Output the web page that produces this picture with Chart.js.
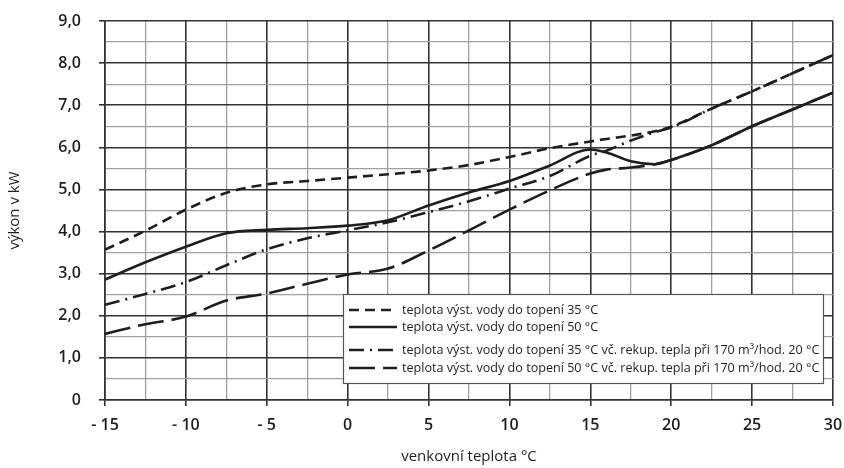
<!DOCTYPE html>
<html>
<head>
<meta charset="utf-8">
<script src="https://cdn.jsdelivr.net/npm/chart.js@4"></script>
<style>
  body { margin: 0; background: #fff; }
  #c { display: block; }
</style>
</head>
<body>
<canvas id="c" width="844" height="468"></canvas>
<script>
// outdoor temperature (°C)
const teploty = [-15, -12.5, -10, -7.5, -5, -2.5, 0, 2.5, 5, 7.5, 10, 12.5, 15, 16, 17.5, 19, 20, 22.5, 25, 27.5, 30];
// power output (kW)
const vykon35 = [3.57, 4.02, 4.52, 4.92, 5.12, 5.2, 5.28, 5.36, 5.45, 5.58, 5.77, 5.98, 6.14, 6.2, 6.28, 6.38, 6.49, 6.92, 7.33, 7.76, 8.19];
const vykon50 = [2.86, 3.27, 3.64, 3.96, 4.04, 4.08, 4.14, 4.27, 4.62, 4.93, 5.2, 5.57, 5.95, 5.88, 5.67, 5.6, 5.7, 6.05, 6.5, 6.9, 7.3];
const vykon35rek = [2.26, 2.52, 2.8, 3.2, 3.58, 3.84, 4.03, 4.22, 4.46, 4.72, 5.02, 5.32, 5.8, 5.92, 6.16, 6.36, 6.47, 6.92, 7.33, 7.76, 8.19];
const vykon50rek = [1.57, 1.8, 1.98, 2.36, 2.53, 2.76, 2.98, 3.12, 3.55, 4.03, 4.52, 4.98, 5.38, 5.47, 5.52, 5.6, 5.7, 6.05, 6.5, 6.9, 7.3];

const popisky = [
    "teplota výst. vody do topení 35 °C",
    "teplota výst. vody do topení 50 °C",
    "teplota výst. vody do topení 35 °C vč. rekup. tepla při 170 m³/hod. 20 °C",
    "teplota výst. vody do topení 50 °C vč. rekup. tepla při 170 m³/hod. 20 °C"
];

const INK = '#1e1e1e';
const tickFont = { family: '"Open Sans", sans-serif', size: 16, weight: '600' };
const titleFont = { family: '"Open Sans", sans-serif', size: 15, weight: '400' };

function serie(label, hodnoty, dash) {
    return {
        label: label,
        data: teploty.map((t, i) => ({ x: t, y: hodnoty[i] })),
        borderColor: INK,
        borderWidth: 2.6,
        borderDash: dash,
        pointRadius: 0,
        fill: false,
        cubicInterpolationMode: 'monotone'
    };
}

// legend drawn as a framed box inside the plot
const legendaBox = {
    id: 'legendaBox',
    afterDatasetsDraw(chart) {
        const ctx = chart.ctx;
        const x0 = 343, y0 = 294, w = 480, h = 89;
        const radky = [310, 327, 350, 368];
        ctx.save();
        ctx.fillStyle = '#fff';
        ctx.fillRect(x0, y0, w, h);
        ctx.strokeStyle = '#555';
        ctx.lineWidth = 1.2;
        ctx.strokeRect(x0 + 0.5, y0 + 0.5, w, h);
        ctx.font = '12.6px "Open Sans", sans-serif';
        ctx.textBaseline = 'middle';
        chart.data.datasets.forEach((ds, i) => {
            const y = radky[i];
            ctx.strokeStyle = INK;
            ctx.lineWidth = 2.6;
            ctx.setLineDash(ds.borderDash || []);
            ctx.beginPath();
            ctx.moveTo(349, y);
            ctx.lineTo(397, y);
            ctx.stroke();
            ctx.setLineDash([]);
            ctx.fillStyle = INK;
            ctx.fillText(popisky[i], 402, y);
        });
        ctx.restore();
    }
};

new Chart(document.getElementById('c'), {
    type: 'line',
    data: {
        datasets: [
            serie(popisky[0], vykon35, [10, 6]),
            serie(popisky[1], vykon50, []),
            serie(popisky[2], vykon35rek, [15, 6, 2, 6]),
            serie(popisky[3], vykon50rek, [26, 8])
        ]
    },
    options: {
        responsive: false,
        animation: false,
        devicePixelRatio: 1,
        layout: { padding: { top: 21, right: 11, left: 0, bottom: 0 } },
        plugins: {
            legend: { display: false },
            tooltip: { enabled: false }
        },
        scales: {
            x: {
                type: 'linear',
                min: -15,
                max: 30,
                afterFit: s => { s.height = 68; s.paddingLeft = 0; s.paddingRight = 0; },
                border: { color: '#333', width: 1.6 },
                grid: {
                    color: c => c.tick.value % 5 === 0 ? '#333' : '#a0a0a0',
                    lineWidth: c => c.tick.value % 5 === 0 ? 1.6 : 1.3,
                    tickColor: c => c.tick.value % 5 === 0 ? '#333' : 'rgba(0,0,0,0)',
                    tickLength: 6
                },
                ticks: {
                    stepSize: 2.5,
                    autoSkip: false,
                    maxRotation: 0,
                    padding: 10,
                    color: INK,
                    font: tickFont,
                    callback: v => v % 5 !== 0 ? '' : (v < 0 ? '- ' + Math.abs(v) : String(v))
                },
                title: {
                    display: true,
                    text: 'venkovní teplota °C',
                    color: INK,
                    font: titleFont,
                    padding: { top: 4, bottom: 2 }
                }
            },
            y: {
                min: 0,
                max: 9,
                afterFit: s => { s.width = 105; s.paddingTop = 0; s.paddingBottom = 0; },
                border: { color: '#333', width: 1.6 },
                grid: {
                    color: c => c.tick.value % 1 === 0 ? '#333' : '#a0a0a0',
                    lineWidth: c => c.tick.value % 1 === 0 ? 1.6 : 1.3,
                    tickColor: c => c.tick.value % 1 === 0 ? '#333' : 'rgba(0,0,0,0)',
                    tickLength: 6
                },
                ticks: {
                    stepSize: 0.5,
                    autoSkip: false,
                    padding: 18,
                    color: INK,
                    font: tickFont,
                    callback: v => v % 1 !== 0 ? '' : (v === 0 ? '0' : v.toFixed(1).replace('.', ','))
                },
                title: {
                    display: true,
                    text: 'výkon v kW',
                    color: INK,
                    font: titleFont,
                    padding: { top: 6, bottom: 4 }
                }
            }
        }
    },
    plugins: [legendaBox]
});
</script>
</body>
</html>
